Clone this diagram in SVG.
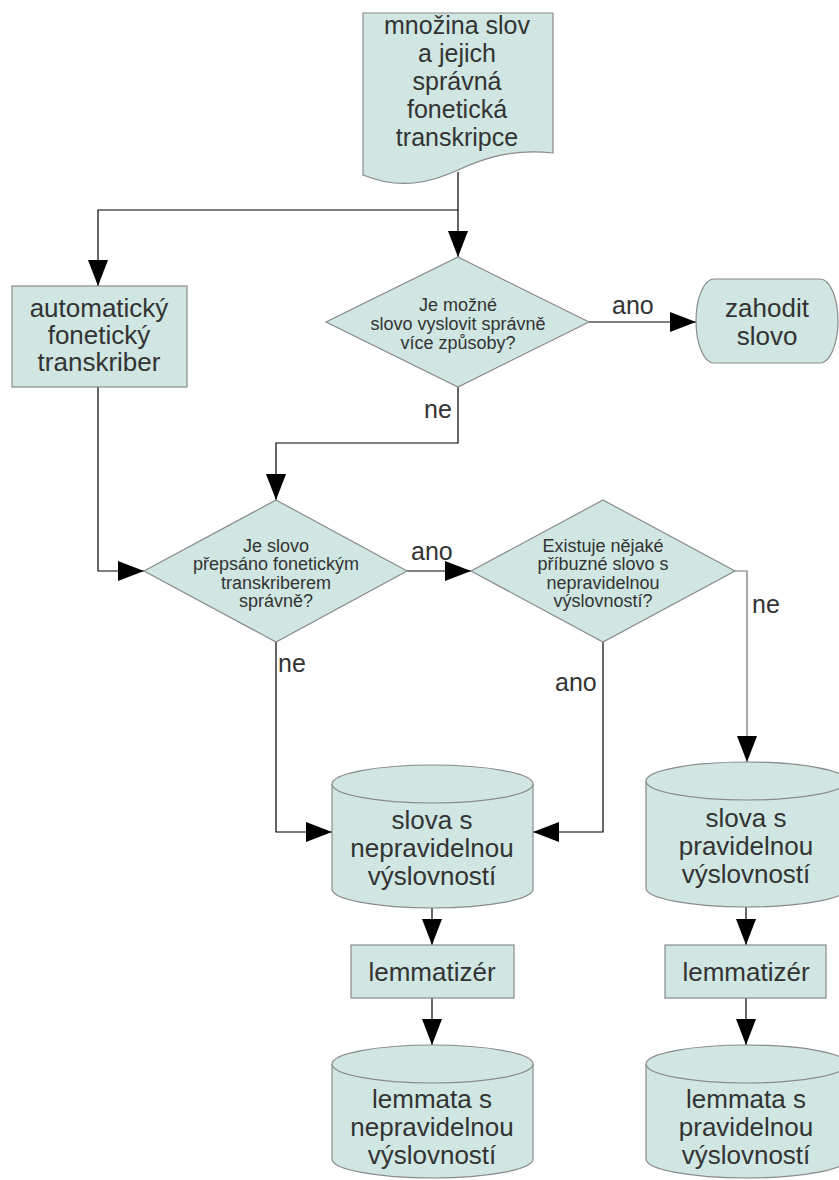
<svg xmlns="http://www.w3.org/2000/svg" width="839" height="1180" viewBox="0 0 839 1180">
  <defs>
    <marker id="arrow" markerUnits="userSpaceOnUse" markerWidth="28" markerHeight="22" refX="26" refY="10" orient="auto">
      <path d="M0,0 L26,10 L0,20 Z" fill="#000"/>
    </marker>
  </defs>
  <style>
    .shape { fill: #cfe6e2; stroke: #8a8a8a; stroke-width: 1.2; }
    .edge { fill: none; stroke: #000; stroke-width: 1.2; marker-end: url(#arrow); }
    .grey { stroke: #707070; }
    .big { font-family: "Liberation Sans", Arial, sans-serif; font-size: 26px; fill: #333; text-anchor: middle; }
    .doc { font-size: 25px; }
    .small { font-family: "Liberation Sans", Arial, sans-serif; font-size: 18px; fill: #333; text-anchor: middle; }
    .label { font-family: "Liberation Sans", Arial, sans-serif; font-size: 25px; fill: #333; }
  </style>
  <rect width="839" height="1180" fill="#fff"/>

  <!-- connectors -->
  <g id="connectors">
    <path class="edge" d="M458,172 V257"/>
    <path class="edge" d="M458,210 H98 V286"/>
    <path class="edge" d="M589,322 H696"/>
    <path class="edge" d="M458,387 V443 H276 V500"/>
    <path class="edge" d="M98,387 V571 H144"/>
    <path class="edge" d="M407,571 H471"/>
    <path class="edge grey" d="M735,571 H747 V762"/>
    <path class="edge" d="M603,642 V832 H533"/>
    <path class="edge" d="M276,642 V832 H332"/>
    <path class="edge" d="M432,908 V945"/>
    <path class="edge" d="M432,998 V1045"/>
    <path class="edge" d="M746,907 V945"/>
    <path class="edge" d="M746,998 V1045"/>
    <text class="label" x="612" y="314">ano</text>
    <text class="label" x="424" y="418">ne</text>
    <text class="label" x="411" y="560">ano</text>
    <text class="label" x="752" y="613">ne</text>
    <text class="label" x="278" y="672">ne</text>
    <text class="label" x="555" y="691">ano</text>
  </g>

  <!-- document -->
  <g id="source">
    <path class="shape" d="M363,13 H553 V153 C510,148 480,160 458,170 C430,183 400,190 363,175 Z"/>
    <text class="big doc" x="457" y="34">množina slov</text>
    <text class="big doc" x="457" y="62">a jejich</text>
    <text class="big doc" x="457" y="90">správná</text>
    <text class="big doc" x="457" y="118">fonetická</text>
    <text class="big doc" x="457" y="146">transkripce</text>
  </g>

  <g id="transcriber">
    <rect class="shape" x="12" y="286" width="175" height="101"/>
    <text class="big" x="99" y="317">automatický</text>
    <text class="big" x="99" y="344">fonetický</text>
    <text class="big" x="99" y="371">transkriber</text>
  </g>

  <g id="decision-multiple">
    <polygon class="shape" points="458,257 589,322 458,387 326,322"/>
    <text class="small" x="458" y="311">Je možné</text>
    <text class="small" x="458" y="330">slovo vyslovit správně</text>
    <text class="small" x="458" y="349">více způsoby?</text>
  </g>

  <g id="discard">
    <rect class="shape" x="696" y="279" width="142" height="84" rx="18" ry="42"/>
    <text class="big" x="767" y="317">zahodit</text>
    <text class="big" x="767" y="345">slovo</text>
  </g>

  <g id="decision-correct">
    <polygon class="shape" points="276,500 407,571 276,642 144,571"/>
    <text class="small" x="276" y="552">Je slovo</text>
    <text class="small" x="276" y="570">přepsáno fonetickým</text>
    <text class="small" x="276" y="589">transkriberem</text>
    <text class="small" x="276" y="607">správně?</text>
  </g>

  <g id="decision-related">
    <polygon class="shape" points="603,500 735,571 603,642 471,571"/>
    <text class="small" x="603" y="552">Existuje nějaké</text>
    <text class="small" x="603" y="570">příbuzné slovo s</text>
    <text class="small" x="603" y="589">nepravidelnou</text>
    <text class="small" x="603" y="607">výslovností?</text>
  </g>

  <g id="irregular-words">
    <path class="shape" d="M332,784 A100.5,19 0 0 1 533,784 V889 A100.5,19 0 0 1 332,889 Z"/>
    <path class="shape" fill="none" d="M332,784 A100.5,19 0 0 0 533,784"/>
    <text class="big" x="432" y="829">slova s</text>
    <text class="big" x="432" y="857">nepravidelnou</text>
    <text class="big" x="432" y="885">výslovností</text>
  </g>

  <g id="regular-words">
    <path class="shape" d="M646,781 A100.5,19 0 0 1 847,781 V888 A100.5,19 0 0 1 646,888 Z"/>
    <path class="shape" fill="none" d="M646,781 A100.5,19 0 0 0 847,781"/>
    <text class="big" x="746" y="827">slova s</text>
    <text class="big" x="746" y="855">pravidelnou</text>
    <text class="big" x="746" y="883">výslovností</text>
  </g>

  <g id="lemmatizer-irregular">
    <rect class="shape" x="351" y="945" width="163" height="53"/>
    <text class="big" x="432" y="981">lemmatizér</text>
  </g>

  <g id="lemmatizer-regular">
    <rect class="shape" x="665" y="945" width="161" height="53"/>
    <text class="big" x="746" y="981">lemmatizér</text>
  </g>

  <g id="irregular-lemmas">
    <path class="shape" d="M332,1064 A100.5,19 0 0 1 533,1064 V1159 A100.5,19 0 0 1 332,1159 Z"/>
    <path class="shape" fill="none" d="M332,1064 A100.5,19 0 0 0 533,1064"/>
    <text class="big" x="432" y="1108">lemmata s</text>
    <text class="big" x="432" y="1136">nepravidelnou</text>
    <text class="big" x="432" y="1164">výslovností</text>
  </g>

  <g id="regular-lemmas">
    <path class="shape" d="M646,1064 A100.5,19 0 0 1 847,1064 V1159 A100.5,19 0 0 1 646,1159 Z"/>
    <path class="shape" fill="none" d="M646,1064 A100.5,19 0 0 0 847,1064"/>
    <text class="big" x="746" y="1108">lemmata s</text>
    <text class="big" x="746" y="1136">pravidelnou</text>
    <text class="big" x="746" y="1164">výslovností</text>
  </g>
</svg>
